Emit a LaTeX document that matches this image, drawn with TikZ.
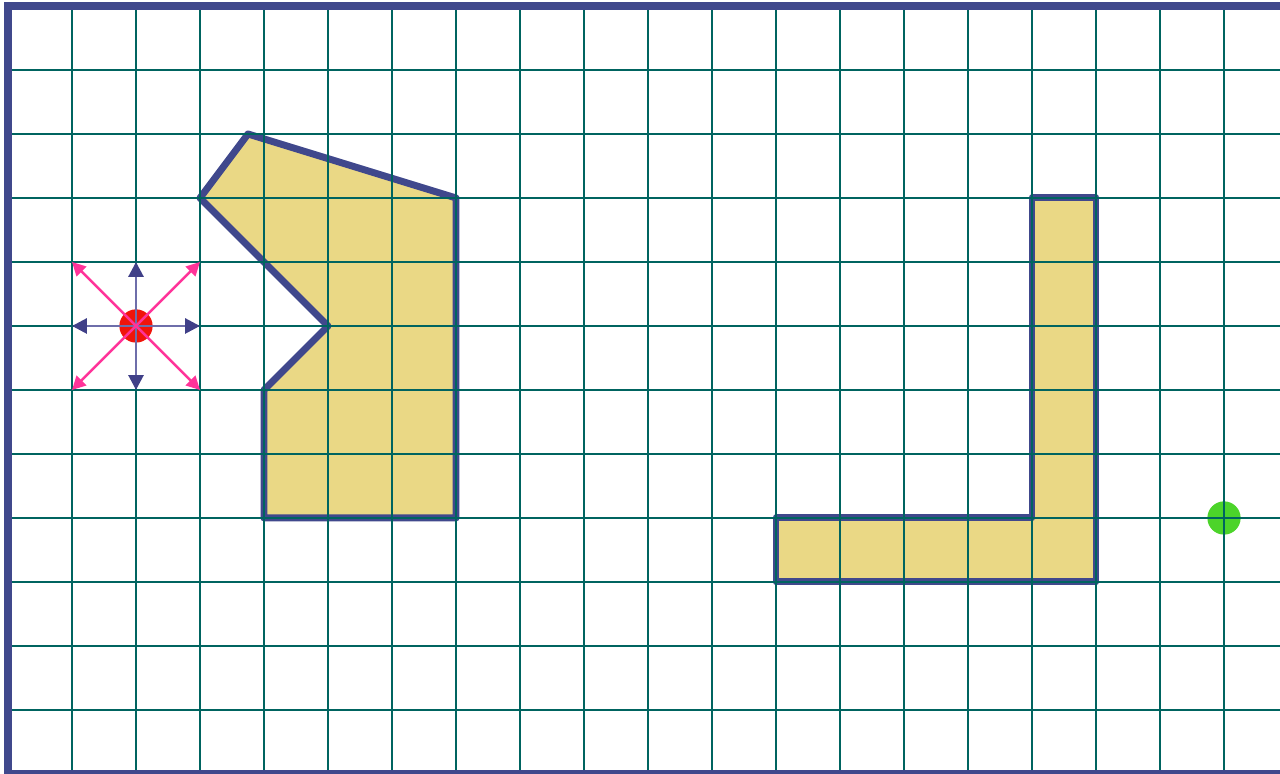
\documentclass[tikz,border=0pt]{standalone}
\usetikzlibrary{arrows.meta}
\definecolor{gridc}{RGB}{0,100,96}
\definecolor{bordc}{RGB}{64,72,140}
\definecolor{shapefill}{RGB}{234,216,133}
\definecolor{arrowblue}{RGB}{64,64,136}
\definecolor{arrowshaft}{RGB}{110,110,170}
\definecolor{pinkc}{RGB}{255,51,153}
\definecolor{redc}{RGB}{240,20,10}
\definecolor{greenc}{RGB}{76,212,42}
\tikzset{
  shapebox/.style={fill=shapefill, draw=bordc, line width=3.1pt, line join=round},
  gridline/.style={draw=gridc, line width=0.95pt},
  dirarrow/.style={draw=arrowshaft, line width=1.3pt, -{Triangle[length=6.6pt,width=6.6pt,color=arrowblue]}},
  diagarrow/.style={draw=pinkc, line width=1.1pt, -{Triangle[length=6pt,width=6pt]}},
  dot/.style={circle, inner sep=0pt, minimum size=0.52cm},
}
\begin{document}
\begin{tikzpicture}[x=1cm,y=1cm]
\useasboundingbox (0,0) rectangle (20,12.09375);
\clip (0,0) rectangle (20,12.09375);
% shapes
\filldraw[shapebox] (3.875,10) -- (7.125,9) -- (7.125,4) -- (4.125,4) -- (4.125,6) -- (5.125,7) -- (3.125,9) -- cycle;
\filldraw[shapebox] (12.125,4) -- (16.125,4) -- (16.125,9) -- (17.125,9) -- (17.125,3) -- (12.125,3) -- cycle;
% goal dot (under grid)
\node[dot, fill=greenc] (g) at (19.125,4) {};
% grid
\foreach \i in {1,...,19} \draw[gridline] (\i+0.125,0) -- (\i+0.125,12);
\foreach \j in {1,...,11} \draw[gridline] (0.125,\j) -- (20,\j);
% start dot and moves
\node[dot, fill=redc] (r) at (2.125,7) {};
\coordinate (n) at (2.125,8);
\coordinate (s) at (2.125,6);
\coordinate (e) at (3.125,7);
\coordinate (w) at (1.125,7);
\coordinate (ne) at (3.125,8);
\coordinate (nw) at (1.125,8);
\coordinate (se) at (3.125,6);
\coordinate (sw) at (1.125,6);
\foreach \t in {n,s,e,w} \draw[dirarrow] (r.center) -- (\t);
\foreach \t in {ne,nw,se,sw} \draw[diagarrow] (r.center) -- (\t);
% border
\draw[draw=bordc, line width=3.6pt] (0.125,0) rectangle (21,12);
\end{tikzpicture}
\end{document}
